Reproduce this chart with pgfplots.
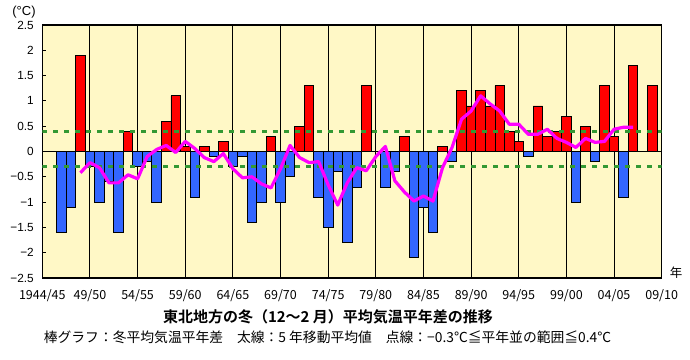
\documentclass[border=0pt]{standalone}
\usepackage{fontspec}
\usepackage{pgfplots}
\pgfplotsset{compat=1.18}
\setmainfont{Liberation Sans}
\newfontfamily\jp{Noto Sans CJK JP}[BoldFont={Noto Sans CJK JP Bold}]
\definecolor{bgy}{HTML}{FFF8C6}
\definecolor{barred}{HTML}{FF0000}
\definecolor{barblue}{HTML}{3366FF}
\definecolor{magline}{HTML}{FF00FF}
\definecolor{grn}{HTML}{339933}
\begin{document}
\begin{tikzpicture}
\useasboundingbox (0,0) rectangle (690bp,360bp);
\begin{axis}[
  at={(42.3bp,82bp)}, anchor=south west,
  width=619.4bp, height=253bp, scale only axis,
  xmin=0, xmax=65, ymin=-2.5, ymax=2.5,
  axis background/.style={fill=bgy},
  axis line style={black, line width=1.2bp},
  xtick={0,5,10,15,20,25,30,35,40,45,50,55,60,65},
  xticklabels={1944/45,49/50,54/55,59/60,64/65,69/70,74/75,79/80,84/85,89/90,94/95,99/00,04/05,09/10},
  xtick style={draw=none},
  xmajorgrids, major grid style={black, line width=1bp},
  ytick={-2.5,-2,-1.5,-1,-0.5,0,0.5,1,1.5,2,2.5},
  yticklabels={−2.5,−2,−1.5,−1,−0.5,0,0.5,1,1.5,2,2.5},
  ytick pos=left, tick align=inside,
  ytick style={black, line width=0.8bp},
  major tick length=3.5bp,
  xticklabel style={font=\jp\fontsize{12.5bp}{14bp}\selectfont, yshift=-8bp},
  yticklabel style={font=\fontsize{11.8bp}{13bp}\selectfont, xshift=-5bp},
]
\addplot[ybar, bar width=1, bar shift=0pt, fill=barred, draw=black, line width=0.8bp] coordinates {
(4,1.9)(9,0.4)(13,0.6)(14,1.1)(15,0.1)(17,0.1)(19,0.2)(24,0.3)(27,0.5)(28,1.3)(34,1.3)(38,0.3)(42,0.1)(44,1.2)(45,0.9)(46,1.2)(47,0.9)(48,1.3)(49,0.4)(50,0.2)(52,0.9)(53,0.3)(54,0.4)(55,0.7)(57,0.5)(59,1.3)(60,0.3)(62,1.7)(64,1.3)};
\addplot[ybar, bar width=1, bar shift=0pt, fill=barblue, draw=black, line width=0.8bp] coordinates {
(2,-1.6)(3,-1.1)(5,-0.3)(6,-1.0)(7,-0.6)(8,-1.6)(10,-0.3)(11,-0.2)(12,-1.0)(16,-0.9)(18,-0.1)(20,-0.3)(21,-0.1)(22,-1.4)(23,-1.0)(25,-1.0)(26,-0.5)(29,-0.9)(30,-1.5)(31,-0.4)(32,-1.8)(33,-0.7)(36,-0.7)(37,-0.4)(39,-2.1)(40,-1.1)(41,-1.6)(43,-0.2)(51,-0.1)(56,-1.0)(58,-0.2)(61,-0.9)};
\addplot[black, line width=1bp] coordinates {(0,0)(65,0)};
\addplot[grn, line width=3bp, dash pattern=on 5bp off 6bp] coordinates {(0,0.4)(65,0.4)};
\addplot[grn, line width=3bp, dash pattern=on 5bp off 6bp] coordinates {(0,-0.3)(65,-0.3)};
\addplot[magline, line width=3.2bp, line join=round] coordinates {
(4,-0.42)(5,-0.22)(6,-0.32)(7,-0.62)(8,-0.62)(9,-0.46)(10,-0.54)(11,-0.10)(12,0.04)(13,0.12)(14,-0.02)(15,0.20)(16,0.06)(17,-0.12)(18,-0.20)(19,-0.04)(20,-0.34)(21,-0.52)(22,-0.50)(23,-0.64)(24,-0.72)(25,-0.34)(26,0.12)(27,-0.12)(28,-0.22)(29,-0.20)(30,-0.66)(31,-1.06)(32,-0.62)(33,-0.32)(34,-0.38)(35,-0.10)(36,0.10)(37,-0.58)(38,-0.80)(39,-0.98)(40,-0.88)(41,-0.98)(42,-0.32)(43,0.08)(44,0.64)(45,0.80)(46,1.10)(47,0.94)(48,0.80)(49,0.54)(50,0.54)(51,0.34)(52,0.34)(53,0.44)(54,0.26)(55,0.18)(56,0.08)(57,0.26)(58,0.18)(59,0.20)(60,0.44)(61,0.48)(62,0.48)};
\end{axis}
\node[font=\fontsize{13bp}{15bp}\selectfont] at (24bp,347.7bp) {(°C)};
\node[font=\jp\fontsize{12.5bp}{14bp}\selectfont] at (676bp,87bp) {年};
\node[font=\jp\bfseries\fontsize{15bp}{18bp}\selectfont] at (328bp,43bp) {東北地方の冬（12～2 月）平均気温平年差の推移};
\node[font=\jp\fontsize{13.8bp}{16bp}\selectfont] at (327.5bp,22.5bp) {棒グラフ：冬平均気温平年差　太線：5 年移動平均値　点線：−0.3℃≦平年並の範囲≦0.4℃};
\end{tikzpicture}
\end{document}
